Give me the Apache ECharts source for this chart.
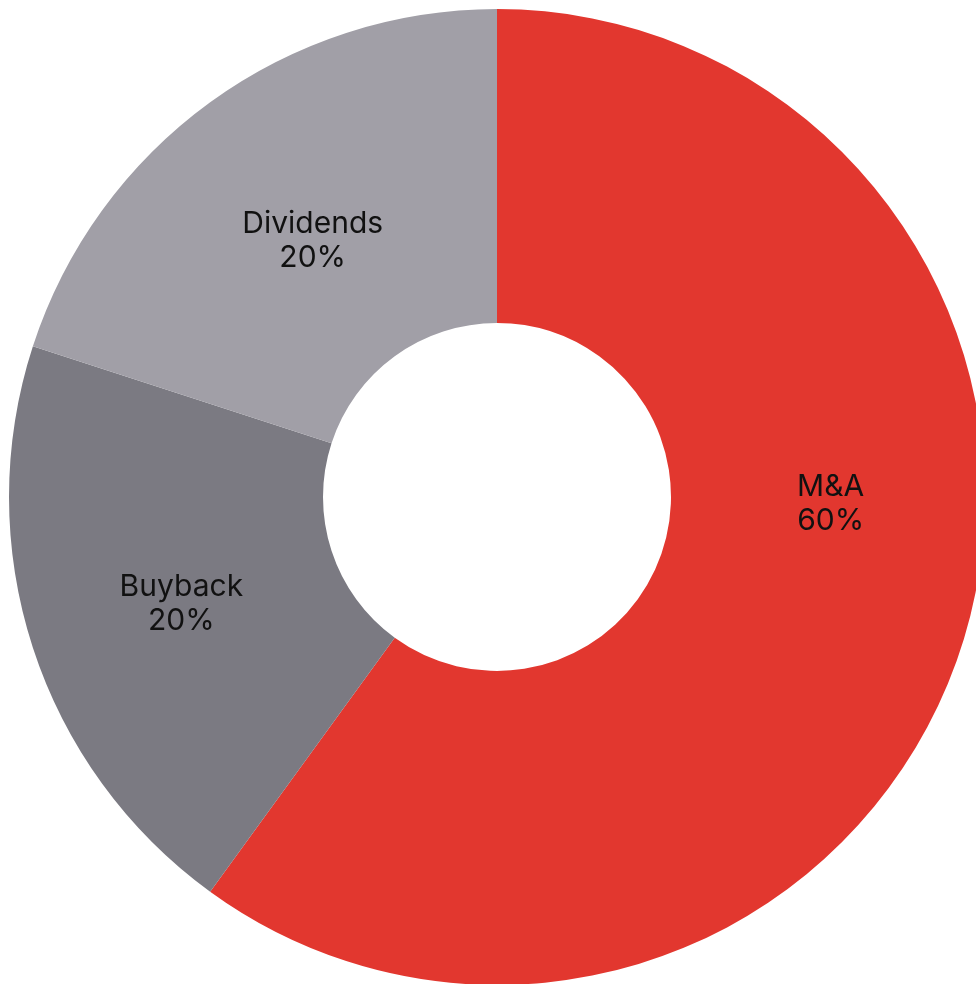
<!DOCTYPE html>
<html>
<head>
<meta charset="utf-8">
<script src="https://cdn.jsdelivr.net/npm/echarts@6/dist/echarts.min.js"></script>
<style>
  html, body { margin: 0; padding: 0; background: #ffffff; }
  #chart { width: 976px; height: 984px; }
</style>
</head>
<body>
<div id="chart"></div>
<script>
const categories = ["M&A", "Buyback", "Dividends"];
const shares = [60, 20, 20];
const colors = ["#E2372F", "#7B7A82", "#A19FA7"];
const labelOffsets = [[16, -96], [2, 4], [12, 14]];

const chart = echarts.init(document.getElementById('chart'), null, { renderer: 'canvas' });
chart.setOption({
  animation: false,
  series: [{
    type: 'pie',
    center: [497, 497],
    radius: [174, 488],
    startAngle: 90,
    clockwise: true,
    avoidLabelOverlap: false,
    label: {
      show: true,
      position: 'inside',
      formatter: '{b}\n{d}%',
      fontFamily: 'Inter',
      fontSize: 30,
      fontWeight: 'normal',
      lineHeight: 34,
      color: '#111111'
    },
    labelLine: { show: false },
    emphasis: { disabled: true },
    itemStyle: { borderWidth: 0 },
    data: categories.map((c, i) => ({
      name: c,
      value: shares[i],
      itemStyle: { color: colors[i] },
      label: { offset: labelOffsets[i] }
    }))
  }]
});
</script>
</body>
</html>
